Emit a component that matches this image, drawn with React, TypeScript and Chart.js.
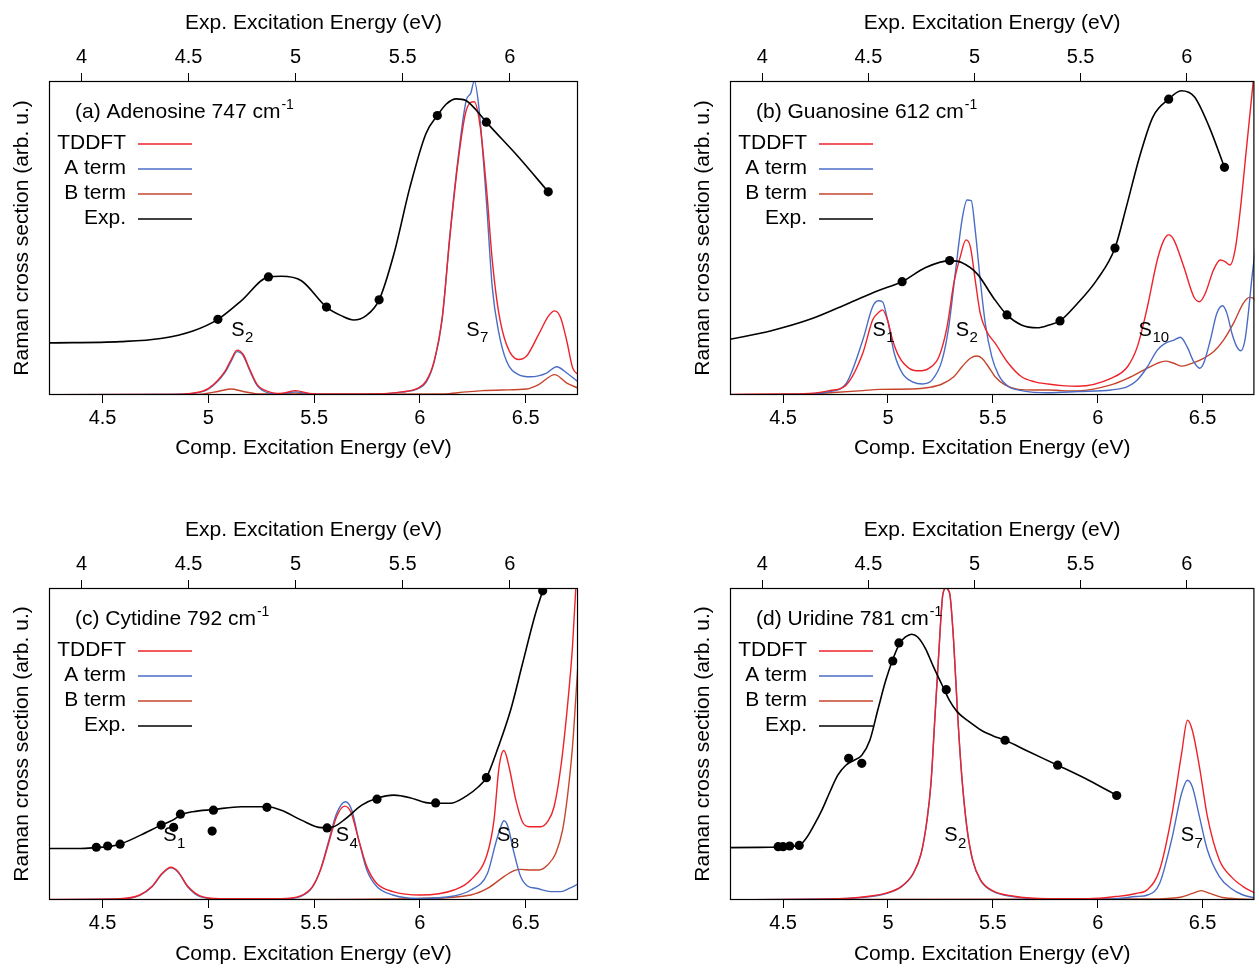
import { useEffect, useRef } from "react";
import { Chart, registerables } from "chart.js";

Chart.register(...registerables);

type Pt = [number, number];
type State = [string, string, number, number];

const FONT = "'Liberation Sans', Arial, Helvetica, sans-serif";

// axis ranges & tick labels
const compRange: Pt = [4.247, 6.747];
const expRange: Pt = [3.848, 6.319];
const compTicks = [4.5, 5, 5.5, 6, 6.5];
const expTicks = [4, 4.5, 5, 5.5, 6];

const seriesNames = ["TDDFT", "A term", "B term", "Exp."];
const seriesColors = ["#ee2229", "#4a6dc3", "#c5442b", "#000000"];
const seriesWidths = [1.4, 1.4, 1.4, 1.6];

// ---------- (a) Adenosine ----------
const aTddft: Pt[] = [
  [4.247, 0.001], [4.8, 0.002], [4.927, 0.006], [5.003, 0.022], [5.079, 0.076], [5.108, 0.113],
  [5.136, 0.143], [5.165, 0.129], [5.193, 0.086], [5.231, 0.033], [5.288, 0.01], [5.345, 0.005],
  [5.412, 0.014], [5.478, 0.005], [5.535, 0.003], [5.725, 0.003], [5.915, 0.01], [5.991, 0.022],
  [6.029, 0.044], [6.067, 0.108], [6.105, 0.246], [6.143, 0.513], [6.181, 0.747], [6.219, 0.907],
  [6.257, 0.934], [6.285, 0.854], [6.314, 0.662], [6.342, 0.428], [6.371, 0.268], [6.409, 0.161],
  [6.466, 0.113], [6.504, 0.124], [6.561, 0.193], [6.608, 0.252], [6.637, 0.268], [6.665, 0.246],
  [6.694, 0.172], [6.722, 0.086], [6.747, 0.065],
];
const aAterm: Pt[] = [
  [4.247, 0.001], [4.8, 0.002], [4.927, 0.005], [5.003, 0.02], [5.079, 0.072], [5.108, 0.108],
  [5.136, 0.138], [5.165, 0.125], [5.193, 0.082], [5.231, 0.03], [5.288, 0.006], [5.345, 0.003],
  [5.412, 0.01], [5.478, 0.003], [5.535, 0.002], [5.725, 0.002], [5.915, 0.009], [5.991, 0.02],
  [6.029, 0.04], [6.067, 0.104], [6.105, 0.24], [6.143, 0.52], [6.181, 0.758], [6.219, 0.939],
  [6.24, 0.961], [6.257, 1.0], [6.28, 0.907], [6.314, 0.619], [6.342, 0.342], [6.371, 0.204],
  [6.409, 0.108], [6.466, 0.065], [6.523, 0.058], [6.599, 0.07], [6.646, 0.09], [6.694, 0.07],
  [6.747, 0.042],
];
const aBterm: Pt[] = [
  [4.247, 0.001], [4.95, 0.002], [5.05, 0.012], [5.108, 0.019], [5.16, 0.012], [5.25, 0.003],
  [5.41, 0.006], [5.5, 0.002], [6.105, 0.003], [6.219, 0.01], [6.295, 0.014], [6.39, 0.016],
  [6.504, 0.019], [6.561, 0.033], [6.637, 0.065], [6.694, 0.038], [6.747, 0.022],
];
const aExpLine: Pt[] = [
  [3.848, 0.166], [4.182, 0.17], [4.37, 0.18], [4.52, 0.204], [4.637, 0.241], [4.746, 0.3],
  [4.873, 0.376], [4.933, 0.378], [5.027, 0.364], [5.144, 0.28], [5.215, 0.252], [5.271, 0.239],
  [5.328, 0.252], [5.39, 0.303], [5.459, 0.449], [5.534, 0.662], [5.609, 0.833], [5.662, 0.89],
  [5.703, 0.926], [5.75, 0.943], [5.797, 0.937], [5.844, 0.907], [5.891, 0.869], [6.041, 0.758],
  [6.18, 0.647],
];
const aExpDots: Pt[] = [
  [4.637, 0.241], [4.873, 0.376], [5.144, 0.28], [5.39, 0.303], [5.662, 0.89], [5.891, 0.869], [6.18, 0.647],
];
const aStates: State[] = [["S", "2", 5.108, 0.188], ["S", "7", 6.219, 0.188]];

// ---------- (b) Guanosine ----------
const bTddft: Pt[] = [
  [4.247, 0.002], [4.5, 0.003], [4.65, 0.006], [4.722, 0.014], [4.801, 0.032], [4.88, 0.133],
  [4.927, 0.239], [4.959, 0.265], [4.974, 0.271], [4.998, 0.239], [5.022, 0.175], [5.053, 0.122],
  [5.101, 0.085], [5.148, 0.077], [5.195, 0.085], [5.243, 0.122], [5.282, 0.218], [5.314, 0.356],
  [5.345, 0.441], [5.372, 0.494], [5.393, 0.472], [5.416, 0.366], [5.44, 0.26], [5.471, 0.202],
  [5.511, 0.165], [5.574, 0.101], [5.637, 0.058], [5.7, 0.042], [5.763, 0.035], [5.83, 0.03],
  [5.905, 0.028], [6.063, 0.053], [6.142, 0.09], [6.189, 0.154], [6.237, 0.281], [6.284, 0.43],
  [6.316, 0.494], [6.339, 0.51], [6.363, 0.494], [6.41, 0.409], [6.458, 0.313], [6.486, 0.297],
  [6.513, 0.324], [6.552, 0.398], [6.584, 0.43], [6.607, 0.425], [6.631, 0.414], [6.655, 0.462],
  [6.678, 0.579], [6.71, 0.791], [6.742, 1.003], [6.75, 1.06],
];
const bAterm: Pt[] = [
  [4.247, 0.001], [4.5, 0.002], [4.65, 0.005], [4.722, 0.011], [4.801, 0.037], [4.88, 0.175],
  [4.927, 0.281], [4.954, 0.3], [4.974, 0.297], [4.998, 0.239], [5.03, 0.133], [5.069, 0.069],
  [5.117, 0.042], [5.164, 0.035], [5.211, 0.048], [5.258, 0.111], [5.29, 0.218], [5.321, 0.388],
  [5.353, 0.557], [5.377, 0.621], [5.397, 0.619], [5.416, 0.525], [5.44, 0.366], [5.464, 0.228],
  [5.495, 0.122], [5.527, 0.064], [5.574, 0.027], [5.637, 0.014], [5.763, 0.007], [5.905, 0.011],
  [6.063, 0.016], [6.142, 0.027], [6.189, 0.048], [6.237, 0.09], [6.284, 0.143], [6.323, 0.165],
  [6.363, 0.175], [6.394, 0.184], [6.426, 0.154], [6.458, 0.106], [6.486, 0.085], [6.505, 0.101],
  [6.537, 0.175], [6.568, 0.26], [6.595, 0.284], [6.616, 0.26], [6.64, 0.196], [6.663, 0.154],
  [6.682, 0.141], [6.702, 0.175], [6.718, 0.26], [6.734, 0.366], [6.753, 0.472],
];
const bBterm: Pt[] = [
  [4.247, 0.001], [4.6, 0.002], [4.722, 0.007], [4.88, 0.014], [4.959, 0.018], [5.117, 0.019],
  [5.195, 0.024], [5.258, 0.035], [5.314, 0.058], [5.353, 0.09], [5.393, 0.117], [5.424, 0.124],
  [5.448, 0.117], [5.479, 0.09], [5.511, 0.058], [5.558, 0.032], [5.621, 0.018], [5.7, 0.016],
  [5.763, 0.016], [5.83, 0.014], [5.905, 0.013], [6.063, 0.032], [6.142, 0.053], [6.221, 0.08],
  [6.284, 0.101], [6.323, 0.108], [6.363, 0.101], [6.402, 0.092], [6.449, 0.101], [6.505, 0.117],
  [6.552, 0.138], [6.6, 0.175], [6.647, 0.228], [6.694, 0.292], [6.723, 0.311], [6.742, 0.308],
  [6.753, 0.297],
];
const bExpLine: Pt[] = [
  [3.846, 0.177], [4.038, 0.204], [4.225, 0.241], [4.413, 0.294], [4.545, 0.332], [4.659, 0.361],
  [4.77, 0.406], [4.883, 0.428], [4.939, 0.422], [5.014, 0.385], [5.089, 0.31], [5.153, 0.255],
  [5.221, 0.223], [5.296, 0.214], [5.352, 0.223], [5.403, 0.236], [5.483, 0.29], [5.576, 0.366],
  [5.662, 0.468], [5.716, 0.6], [5.778, 0.759], [5.841, 0.886], [5.915, 0.942], [5.974, 0.969],
  [6.036, 0.95], [6.106, 0.854], [6.178, 0.725],
];
const bExpDots: Pt[] = [
  [4.659, 0.361], [4.883, 0.428], [5.153, 0.255], [5.403, 0.236], [5.662, 0.468], [5.915, 0.942], [6.178, 0.725],
];
const bStates: State[] = [["S", "1", 4.926, 0.188], ["S", "2", 5.323, 0.188], ["S", "10", 6.195, 0.188]];

// ---------- (c) Cytidine ----------
const cTddft: Pt[] = [
  [4.247, 0.002], [4.582, 0.004], [4.676, 0.016], [4.733, 0.043], [4.781, 0.085], [4.823, 0.105],
  [4.857, 0.091], [4.904, 0.043], [4.961, 0.013], [5.056, 0.004], [5.341, 0.004], [5.435, 0.013],
  [5.492, 0.043], [5.53, 0.096], [5.568, 0.181], [5.606, 0.267], [5.644, 0.301], [5.673, 0.283],
  [5.711, 0.192], [5.749, 0.107], [5.796, 0.053], [5.872, 0.027], [6.003, 0.016], [6.161, 0.032],
  [6.24, 0.064], [6.319, 0.15], [6.35, 0.256], [6.374, 0.427], [6.397, 0.479], [6.421, 0.427],
  [6.453, 0.321], [6.484, 0.251], [6.516, 0.235], [6.571, 0.235], [6.603, 0.251], [6.634, 0.299],
  [6.666, 0.427], [6.697, 0.62], [6.721, 0.812], [6.737, 1.004], [6.75, 1.2],
];
const cAterm: Pt[] = [
  [4.247, 0.001], [4.582, 0.003], [4.676, 0.015], [4.733, 0.042], [4.781, 0.083], [4.823, 0.103],
  [4.857, 0.089], [4.904, 0.041], [4.961, 0.011], [5.056, 0.003], [5.341, 0.003], [5.435, 0.011],
  [5.492, 0.041], [5.53, 0.098], [5.568, 0.187], [5.606, 0.277], [5.648, 0.315], [5.678, 0.288],
  [5.711, 0.192], [5.749, 0.096], [5.796, 0.043], [5.872, 0.016], [5.986, 0.005], [6.161, 0.013],
  [6.24, 0.032], [6.319, 0.085], [6.358, 0.182], [6.382, 0.235], [6.397, 0.254], [6.416, 0.235],
  [6.445, 0.15], [6.476, 0.075], [6.508, 0.045], [6.555, 0.037], [6.618, 0.027], [6.666, 0.027],
  [6.705, 0.037], [6.747, 0.051],
];
const cBterm: Pt[] = [
  [4.247, 0.001], [5.5, 0.002], [6.003, 0.005], [6.24, 0.016], [6.319, 0.037], [6.397, 0.075],
  [6.445, 0.094], [6.476, 0.098], [6.524, 0.096], [6.563, 0.096], [6.603, 0.112], [6.642, 0.15],
  [6.674, 0.224], [6.697, 0.331], [6.721, 0.491], [6.737, 0.652], [6.748, 0.769],
];
const cExpLine: Pt[] = [
  [3.848, 0.165], [3.994, 0.165], [4.069, 0.168], [4.122, 0.171], [4.18, 0.179], [4.276, 0.208],
  [4.372, 0.24], [4.426, 0.256], [4.462, 0.272], [4.52, 0.283], [4.616, 0.29], [4.746, 0.299],
  [4.866, 0.299], [4.933, 0.288], [5.027, 0.256], [5.121, 0.232], [5.177, 0.235], [5.234, 0.261],
  [5.309, 0.304], [5.38, 0.326], [5.459, 0.336], [5.534, 0.328], [5.609, 0.312], [5.654, 0.31],
  [5.722, 0.31], [5.797, 0.333], [5.854, 0.363], [5.891, 0.392], [5.947, 0.491], [6.004, 0.608],
  [6.06, 0.758], [6.116, 0.907], [6.154, 0.991],
];
const cExpDots: Pt[] = [
  [4.069, 0.169], [4.122, 0.173], [4.18, 0.179], [4.372, 0.24], [4.43, 0.233], [4.462, 0.275],
  [4.61, 0.221], [4.616, 0.288], [4.866, 0.297], [5.147, 0.231], [5.38, 0.323], [5.654, 0.311],
  [5.891, 0.392], [6.154, 0.991],
];
const cStates: State[] = [["S", "1", 4.787, 0.188], ["S", "4", 5.602, 0.188], ["S", "8", 6.364, 0.188]];

// ---------- (d) Uridine ----------
const dTddft: Pt[] = [
  [4.247, 0.001], [4.722, 0.003], [4.873, 0.009], [4.987, 0.021], [5.063, 0.043], [5.12, 0.085],
  [5.158, 0.149], [5.186, 0.256], [5.205, 0.374], [5.224, 0.587], [5.243, 0.8], [5.262, 0.982],
  [5.277, 1.0], [5.287, 0.995], [5.296, 0.977], [5.313, 0.832], [5.332, 0.598], [5.351, 0.406],
  [5.376, 0.235], [5.404, 0.128], [5.442, 0.064], [5.499, 0.03], [5.594, 0.013], [5.764, 0.004],
  [5.954, 0.004], [6.087, 0.011], [6.182, 0.021], [6.238, 0.034], [6.295, 0.096], [6.352, 0.267],
  [6.4, 0.47], [6.428, 0.576], [6.451, 0.544], [6.485, 0.427], [6.523, 0.267], [6.58, 0.128],
  [6.636, 0.075], [6.693, 0.043], [6.747, 0.023],
];
const dAterm: Pt[] = [
  [4.247, 0.001], [4.722, 0.003], [4.873, 0.008], [4.987, 0.02], [5.063, 0.042], [5.12, 0.084],
  [5.158, 0.148], [5.186, 0.254], [5.205, 0.372], [5.224, 0.585], [5.243, 0.798], [5.262, 0.98],
  [5.277, 1.0], [5.287, 0.993], [5.296, 0.975], [5.313, 0.83], [5.332, 0.596], [5.351, 0.404],
  [5.376, 0.233], [5.404, 0.126], [5.442, 0.062], [5.499, 0.028], [5.594, 0.011], [5.764, 0.003],
  [5.954, 0.003], [6.087, 0.004], [6.182, 0.011], [6.238, 0.016], [6.295, 0.053], [6.352, 0.192],
  [6.4, 0.342], [6.428, 0.384], [6.451, 0.363], [6.485, 0.267], [6.523, 0.16], [6.58, 0.075],
  [6.636, 0.037], [6.693, 0.016], [6.747, 0.007],
];
const dBterm: Pt[] = [
  [4.247, 0.001], [6.238, 0.003], [6.394, 0.009], [6.451, 0.021], [6.493, 0.03], [6.536, 0.021],
  [6.603, 0.007], [6.747, 0.002],
];
const dExpLine: Pt[] = [
  [3.846, 0.168], [4.038, 0.169], [4.174, 0.175], [4.206, 0.197], [4.244, 0.24], [4.281, 0.288],
  [4.319, 0.347], [4.356, 0.4], [4.394, 0.432], [4.432, 0.448], [4.469, 0.464], [4.507, 0.512],
  [4.544, 0.608], [4.582, 0.704], [4.615, 0.771], [4.647, 0.822], [4.675, 0.843], [4.704, 0.852],
  [4.732, 0.843], [4.769, 0.806], [4.807, 0.747], [4.844, 0.694], [4.882, 0.64], [4.919, 0.603],
  [4.976, 0.571], [5.032, 0.544], [5.088, 0.526], [5.144, 0.512], [5.257, 0.475], [5.392, 0.432],
  [5.538, 0.384], [5.67, 0.335],
];
const dExpDots: Pt[] = [
  [4.075, 0.171], [4.098, 0.171], [4.129, 0.173], [4.174, 0.175], [4.407, 0.454], [4.469, 0.438],
  [4.615, 0.766], [4.644, 0.824], [4.867, 0.674], [5.144, 0.512], [5.392, 0.432], [5.67, 0.335],
];
const dStates: State[] = [["S", "2", 5.268, 0.188], ["S", "7", 6.396, 0.188]];

const panelTitles = ["(a) Adenosine 747 cm", "(b) Guanosine 612 cm", "(c) Cytidine 792 cm", "(d) Uridine 781 cm"];

interface PanelProps {
  left: number;
  top: number;
  width: number;
  height: number;
  rightPad: number;
  bottomH: number;
  bottomTitlePad: number;
  title: string;
  tddft: Pt[];
  aterm: Pt[];
  bterm: Pt[];
  expLine: Pt[];
  expDots: Pt[];
  states: State[];
}

function Panel(p: PanelProps) {
  const ref = useRef<HTMLCanvasElement>(null);
  useEffect(() => {
    if (!ref.current) return;
    const toXY = (arr: Pt[]) => arr.map(([x, y]) => ({ x, y }));
    const lineDs = (data: Pt[], idx: number, axis: string) => ({
      data: toXY(data),
      borderColor: seriesColors[idx],
      backgroundColor: seriesColors[idx],
      borderWidth: seriesWidths[idx],
      pointRadius: 0,
      fill: false,
      cubicInterpolationMode: "monotone" as const,
      xAxisID: axis,
      yAxisID: "y",
    });

    const overlay = {
      id: "overlay",
      afterDraw(chart: any) {
        const { ctx, chartArea: a, scales } = chart;
        ctx.save();
        // frame
        ctx.strokeStyle = "#000";
        ctx.lineWidth = 1.2;
        ctx.strokeRect(a.left + 0.5, a.top + 0.5, a.right - a.left - 1, a.bottom - a.top - 1);
        // title
        ctx.fillStyle = "#000";
        ctx.textAlign = "left";
        ctx.textBaseline = "alphabetic";
        ctx.font = `21px ${FONT}`;
        const tx = a.left + 26;
        const ty = a.top + 37;
        ctx.fillText(p.title, tx, ty);
        const tw = ctx.measureText(p.title).width;
        ctx.font = `14px ${FONT}`;
        ctx.fillText("-1", tx + tw + 1, ty - 9);
        // legend
        seriesNames.forEach((name, i) => {
          const by = a.top + 67.5 + i * 25;
          ctx.font = `21px ${FONT}`;
          ctx.textAlign = "right";
          ctx.fillStyle = "#000";
          ctx.fillText(name, a.left + 77, by);
          ctx.strokeStyle = seriesColors[i];
          ctx.lineWidth = seriesWidths[i];
          ctx.beginPath();
          ctx.moveTo(a.left + 89, by - 4.5);
          ctx.lineTo(a.left + 143, by - 4.5);
          ctx.stroke();
        });
        // state labels
        ctx.textAlign = "left";
        ctx.fillStyle = "#000";
        p.states.forEach(([main, sub, xv, yv]) => {
          const px = scales.x.getPixelForValue(xv);
          const py = scales.y.getPixelForValue(yv);
          ctx.font = `20px ${FONT}`;
          ctx.fillText(main, px, py);
          const mw = ctx.measureText(main).width;
          ctx.font = `15px ${FONT}`;
          ctx.fillText(sub, px + mw + 0.5, py + 6.5);
        });
        ctx.restore();
      },
    };

    const tickGrid = {
      display: true,
      drawOnChartArea: false,
      drawTicks: true,
      tickLength: 8,
      color: "#000",
      lineWidth: 1,
    };

    const chart = new Chart(ref.current, {
      type: "line",
      data: {
        datasets: [
          {
            data: toXY(p.expDots),
            showLine: false,
            pointRadius: 4.6,
            pointBackgroundColor: "#000",
            pointBorderColor: "#000",
            pointBorderWidth: 0,
            xAxisID: "x2",
            yAxisID: "y",
          } as any,
          lineDs(p.expLine, 3, "x2"),
          lineDs(p.tddft, 0, "x"),
          lineDs(p.aterm, 1, "x"),
          lineDs(p.bterm, 2, "x"),
        ],
      },
      options: {
        animation: false,
        responsive: false,
        maintainAspectRatio: false,
        events: [],
        layout: { padding: { left: 0, top: 0, right: p.rightPad, bottom: 0 } },
        plugins: { legend: { display: false }, tooltip: { enabled: false } },
        scales: {
          x: {
            type: "linear",
            position: "bottom",
            min: compRange[0],
            max: compRange[1],
            afterBuildTicks: (s: any) => {
              s.ticks = compTicks.map((v) => ({ value: v }));
            },
            afterFit: (s: any) => {
              s.height = p.bottomH;
            },
            ticks: {
              color: "#000",
              font: { size: 20, family: FONT },
              padding: 3,
              autoSkip: false,
              maxRotation: 0,
              callback: (v: any) => String(v),
            },
            grid: tickGrid,
            border: { display: false },
            title: {
              display: true,
              text: "Comp. Excitation Energy (eV)",
              color: "#000",
              font: { size: 21, family: FONT },
              padding: { top: 0, bottom: p.bottomTitlePad },
            },
          },
          x2: {
            type: "linear",
            position: "top",
            min: expRange[0],
            max: expRange[1],
            afterBuildTicks: (s: any) => {
              s.ticks = expTicks.map((v) => ({ value: v }));
            },
            afterFit: (s: any) => {
              s.height = 81;
            },
            ticks: {
              color: "#000",
              font: { size: 20, family: FONT },
              padding: 4,
              autoSkip: false,
              maxRotation: 0,
              callback: (v: any) => String(v),
            },
            grid: tickGrid,
            border: { display: false },
            title: {
              display: true,
              text: "Exp. Excitation Energy (eV)",
              color: "#000",
              font: { size: 21, family: FONT },
              padding: { top: 10.5, bottom: 0 },
            },
          },
          y: {
            type: "linear",
            position: "left",
            min: 0,
            max: 1,
            afterFit: (s: any) => {
              s.width = 49;
            },
            ticks: { display: false },
            grid: { display: false, drawTicks: false },
            border: { display: false },
            title: {
              display: true,
              text: "Raman cross section (arb. u.)",
              color: "#000",
              font: { size: 21, family: FONT },
              padding: { top: 9.5, bottom: 0 },
            },
          },
        },
      } as any,
      plugins: [overlay],
    });
    return () => chart.destroy();
  }, []);

  return (
    <canvas
      ref={ref}
      width={p.width}
      height={p.height}
      style={{ position: "absolute", left: p.left, top: p.top, width: p.width, height: p.height }}
    />
  );
}

export default function App() {
  return (
    <div
      style={{
        position: "absolute",
        left: 0,
        top: 0,
        width: 1259,
        height: 973,
        background: "#fff",
        overflow: "hidden",
      }}
    >
      <Panel
        left={0} top={0} width={630} height={470} rightPad={52} bottomH={75} bottomTitlePad={9}
        title={panelTitles[0]} tddft={aTddft} aterm={aAterm} bterm={aBterm}
        expLine={aExpLine} expDots={aExpDots} states={aStates}
      />
      <Panel
        left={681} top={0} width={578} height={470} rightPad={1} bottomH={75} bottomTitlePad={9}
        title={panelTitles[1]} tddft={bTddft} aterm={bAterm} bterm={bBterm}
        expLine={bExpLine} expDots={bExpDots} states={bStates}
      />
      <Panel
        left={0} top={507} width={630} height={466} rightPad={52} bottomH={73} bottomTitlePad={6.5}
        title={panelTitles[2]} tddft={cTddft} aterm={cAterm} bterm={cBterm}
        expLine={cExpLine} expDots={cExpDots} states={cStates}
      />
      <Panel
        left={681} top={507} width={578} height={466} rightPad={1} bottomH={73} bottomTitlePad={6.5}
        title={panelTitles[3]} tddft={dTddft} aterm={dAterm} bterm={dBterm}
        expLine={dExpLine} expDots={dExpDots} states={dStates}
      />
    </div>
  );
}
